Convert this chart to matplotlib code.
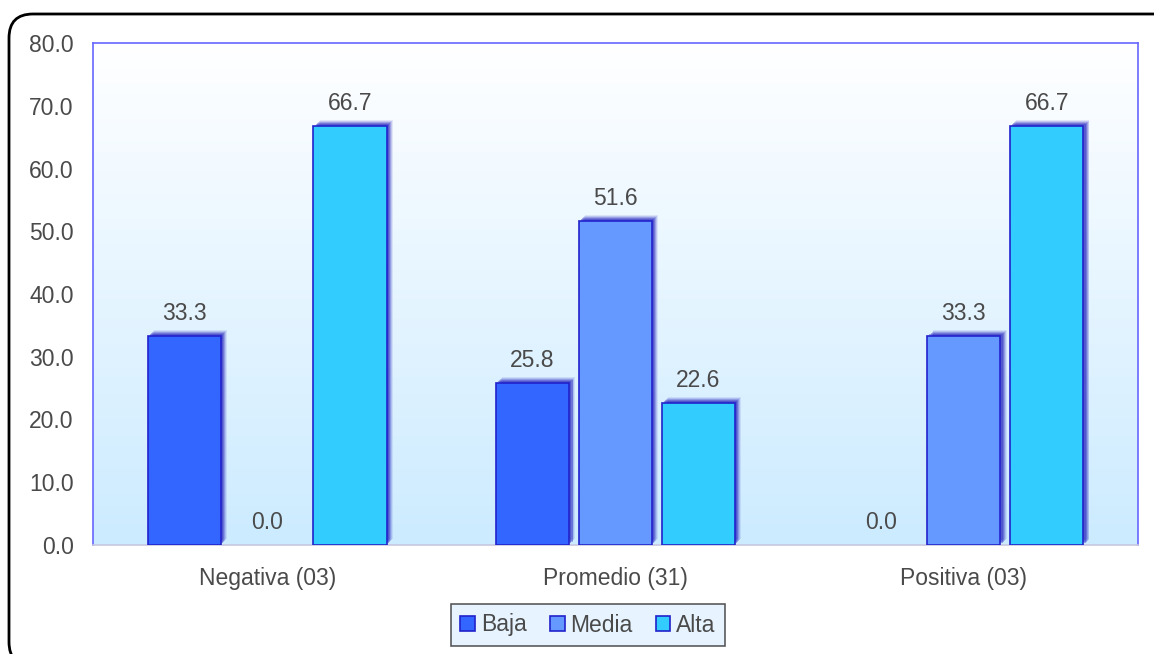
import matplotlib
matplotlib.use("Agg")
import matplotlib.pyplot as plt
import matplotlib.patheffects as pe
import numpy as np
from matplotlib.colors import LinearSegmentedColormap
from matplotlib.patches import FancyBboxPatch, Patch
from matplotlib.transforms import IdentityTransform

plt.rcParams["font.family"] = ["Liberation Sans", "DejaVu Sans"]

categories = ["Negativa (03)", "Promedio (31)", "Positiva (03)"]
series_names = ["Baja", "Media", "Alta"]
baja = [33.3, 25.8, 0.0]
media = [0.0, 51.6, 33.3]
alta = [66.7, 22.6, 66.7]

C_SERIES = ["#3366FF", "#6699FF", "#33CCFF"]
C_EDGE = "#2222CC"
C_TEXT = "#4A4A4A"
C_SHADOW = "#2A2AC0"

W, H, DPI = 1154, 654, 100
fig = plt.figure(figsize=(W / DPI, H / DPI), dpi=DPI, facecolor="white")
ax = fig.add_axes([93 / W, 1 - 545 / H, (1138 - 93) / W, (545 - 43) / H])

# rounded outer frame (runs off the right/bottom edge of the image)
frame = FancyBboxPatch((9, -12), 1170, H - 14 + 12,
                       boxstyle="round,pad=0,rounding_size=24",
                       transform=IdentityTransform(), fill=False,
                       edgecolor="black", lw=2.0, zorder=0)
fig.patches.append(frame)

# vertical gradient in plot area
grad = LinearSegmentedColormap.from_list("bg", ["#CCEBFF", "#FFFFFF"])
ax.imshow(np.linspace(0, 1, 256).reshape(-1, 1)[::-1], cmap=grad, aspect="auto",
          extent=[0, 1, 0, 1], transform=ax.transAxes, zorder=0)

# fake blurred glow: stacked offset shadows
shadow = [pe.SimplePatchShadow(offset=(d, d), shadow_rgbFace=C_SHADOW, alpha=a)
          for d, a in [(4.4, 0.10), (3.8, 0.16), (3.1, 0.24), (2.4, 0.34), (1.6, 0.40)]]
shadow.append(pe.Normal())

x = np.arange(len(categories))
width, step = 0.21, 0.238
for i, (vals, col) in enumerate(zip([baja, media, alta], C_SERIES)):
    pos = x + (i - 1) * step
    bars = ax.bar(pos, vals, width, color=col, edgecolor=C_EDGE, lw=1.2, zorder=3)
    for b, v in zip(bars, vals):
        if v > 0:
            b.set_path_effects(shadow)
        else:
            b.set_visible(False)
        ax.annotate(f"{v:.1f}", (b.get_x() + b.get_width() / 2, v),
                    xytext=(0, 8), textcoords="offset points", ha="center",
                    va="bottom", fontsize=16.5, color=C_TEXT, zorder=5)

ax.set_xlim(-0.5, 2.5)
ax.set_ylim(0, 80)
ax.set_yticks(np.arange(0, 81, 10))
ax.set_yticklabels([f"{t:.1f}" for t in np.arange(0, 81, 10)])
ax.set_xticks(x)
ax.set_xticklabels(categories)
ax.tick_params(axis="both", length=0, labelsize=16.5, labelcolor=C_TEXT)
ax.tick_params(axis="x", pad=16)
ax.tick_params(axis="y", pad=14)
for s in ["left", "top", "right"]:
    ax.spines[s].set_color("#6666FF")
    ax.spines[s].set_linewidth(1.2)
ax.spines["bottom"].set_color("#C8C8E0")
ax.spines["bottom"].set_linewidth(1.2)

handles = [Patch(facecolor=c, edgecolor=C_EDGE, lw=1.2, label=n)
           for c, n in zip(C_SERIES, series_names)]
leg = fig.legend(handles=handles, loc="center", bbox_to_anchor=(588 / W, 1 - 625 / H),
                 ncol=3, fontsize=16.5, frameon=True, fancybox=False,
                 handlelength=0.65, handleheight=0.65, handletextpad=0.25,
                 columnspacing=1.0, borderpad=0.4)
leg.get_frame().set_facecolor("#E2F2FF")
leg.get_frame().set_edgecolor("#333333")
leg.get_frame().set_linewidth(1.2)
for t in leg.get_texts():
    t.set_color(C_TEXT)

fig.savefig("out.png", dpi=DPI, facecolor="white")
